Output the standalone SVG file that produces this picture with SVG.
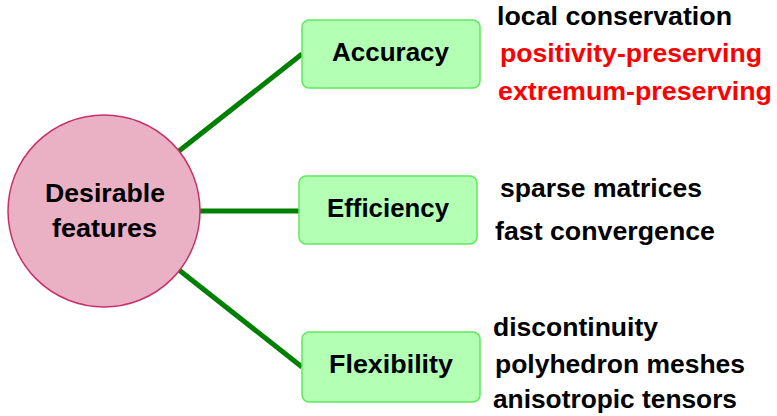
<svg xmlns="http://www.w3.org/2000/svg" width="777" height="416" viewBox="0 0 777 416">
  <style>
    text { font-family: "Liberation Sans", Arial, sans-serif; font-weight: bold; font-size: 26.5px; fill: #000; }
    .hub { fill: #EAB0C4; stroke: #C8306A; stroke-width: 1.5; }
    .box { fill: #B3FFB3; stroke: #5CEB5C; stroke-width: 1.5; }
    .link { stroke: #008000; stroke-width: 5; fill: none; }
    .red { fill: #FF0000; }
    .mid { text-anchor: middle; }
  </style>
  <rect width="777" height="416" fill="#fff"/>

  <g id="connectors">
    <line class="link" x1="179" y1="151" x2="302" y2="54"/>
    <line class="link" x1="200" y1="211" x2="299" y2="211"/>
    <line class="link" x1="179" y1="270" x2="302" y2="367"/>
  </g>

  <g id="desirable-features">
    <circle class="hub" cx="104" cy="211" r="96"/>
    <text class="mid" x="105" y="202" textLength="120" lengthAdjust="spacingAndGlyphs">Desirable</text>
    <text class="mid" x="104.5" y="237" textLength="105" lengthAdjust="spacingAndGlyphs">features</text>
  </g>

  <g id="accuracy">
    <rect class="box" x="302" y="20" width="178" height="68" rx="7"/>
    <text class="mid" x="390.5" y="61" textLength="117" lengthAdjust="spacingAndGlyphs">Accuracy</text>
    <text x="497" y="25" textLength="235" lengthAdjust="spacingAndGlyphs">local conservation</text>
    <text class="red" x="500" y="62" textLength="262" lengthAdjust="spacingAndGlyphs">positivity-preserving</text>
    <text class="red" x="498" y="100" textLength="274" lengthAdjust="spacingAndGlyphs">extremum-preserving</text>
  </g>

  <g id="efficiency">
    <rect class="box" x="299" y="176" width="178" height="68" rx="7"/>
    <text class="mid" x="388" y="217" textLength="122" lengthAdjust="spacingAndGlyphs">Efficiency</text>
    <text x="500" y="197" textLength="202" lengthAdjust="spacingAndGlyphs">sparse matrices</text>
    <text x="495" y="240" textLength="220" lengthAdjust="spacingAndGlyphs">fast convergence</text>
  </g>

  <g id="flexibility">
    <rect class="box" x="302" y="332" width="178" height="70" rx="7"/>
    <text class="mid" x="391" y="373" textLength="124" lengthAdjust="spacingAndGlyphs">Flexibility</text>
    <text x="493" y="336" textLength="165" lengthAdjust="spacingAndGlyphs">discontinuity</text>
    <text x="495" y="373" textLength="250" lengthAdjust="spacingAndGlyphs">polyhedron meshes</text>
    <text x="493" y="408" textLength="244" lengthAdjust="spacingAndGlyphs">anisotropic tensors</text>
  </g>
</svg>
